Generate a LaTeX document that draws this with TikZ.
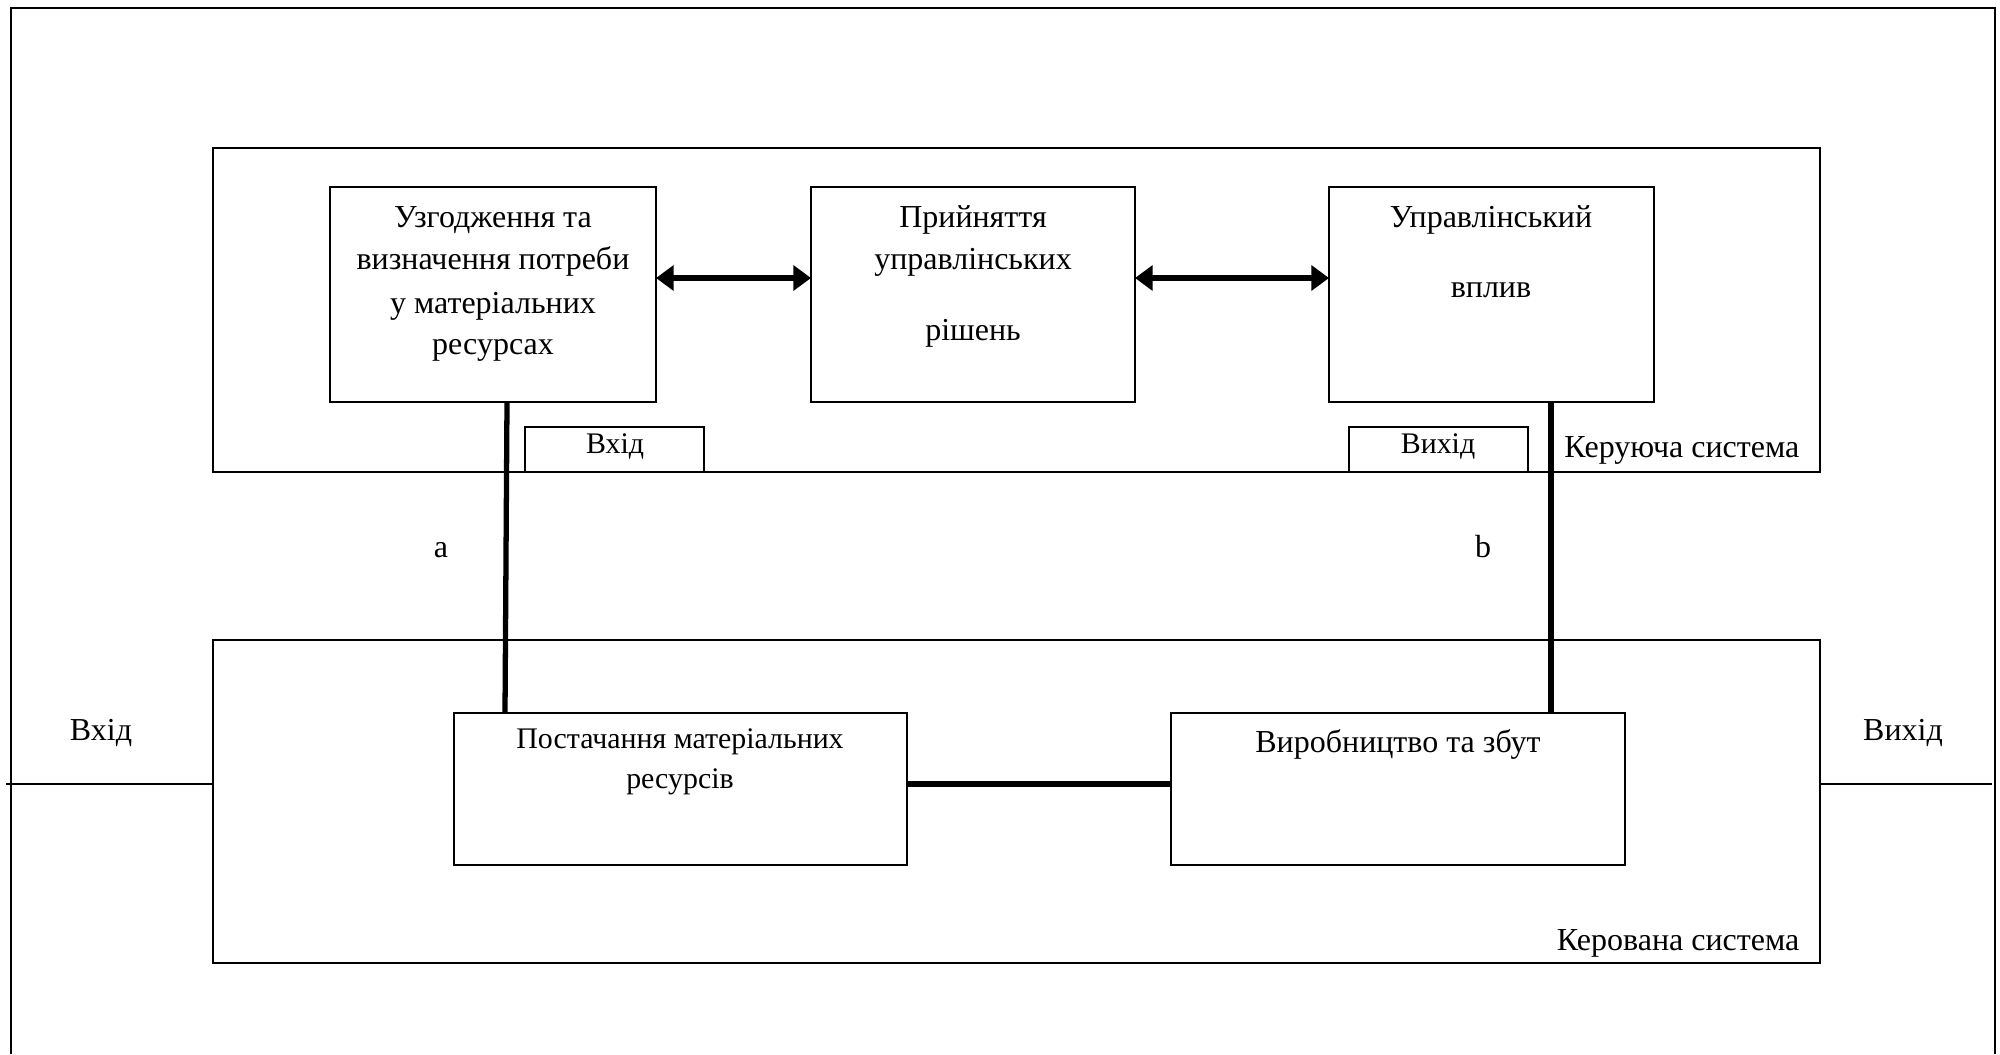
\documentclass[tikz,border=0pt]{standalone}
\usepackage{fontspec}
\setmainfont{Liberation Serif}
\usetikzlibrary{arrows.meta}
\begin{document}
\begin{tikzpicture}[x=0.01cm,y=-0.01cm,
  thinbox/.style={draw,line width=0.6pt,inner sep=0pt,outer sep=0pt},
  txt/.style={inner sep=0pt,anchor=base,font=\fontsize{9.1}{11}\selectfont},
  smalltxt/.style={inner sep=0pt,anchor=base,font=\fontsize{8.5}{10}\selectfont},
  thickline/.style={line width=1.5pt},
  dblarrow/.style={line width=1.6pt,{Triangle[length=5pt,width=7pt]}-{Triangle[length=5pt,width=7pt]}}]
\useasboundingbox (0,0) rectangle (2000,1054);
% outer frame (open at bottom)
\draw[line width=0.6pt] (11,1054) -- (11,8) -- (1995,8) -- (1995,1054);
% control system
\node[thinbox,anchor=north west,minimum width=1607*0.01cm,minimum height=324*0.01cm] (ctrl) at (213,148) {};
\node[thinbox,anchor=north west,minimum width=326*0.01cm,minimum height=215*0.01cm] (b1) at (330,187) {};
\node[thinbox,anchor=north west,minimum width=324*0.01cm,minimum height=215*0.01cm] (b2) at (811,187) {};
\node[thinbox,anchor=north west,minimum width=325*0.01cm,minimum height=215*0.01cm] (b3) at (1329,187) {};
\node[txt] (t1a) at (493,227) {Узгодження та};
\node[txt] (t1b) at (493,269) {визначення потреби};
\node[txt] (t1c) at (493,313) {у матеріальних};
\node[txt] (t1d) at (493,354) {ресурсах};
\node[txt] (t2a) at (973,227) {Прийняття};
\node[txt] (t2b) at (973,269) {управлінських};
\node[txt] (t2c) at (973,340) {рішень};
\node[txt] (t3a) at (1491,227) {Управлінський};
\node[txt] (t3b) at (1491,297) {вплив};
\draw[dblarrow] (b1.east |- 0,278) coordinate (a1s) -- (b2.west |- 0,278) coordinate (a1e);
\draw[dblarrow] (b2.east |- 0,278) coordinate (a2s) -- (b3.west |- 0,278) coordinate (a2e);
\node[thinbox,anchor=north west,minimum width=179*0.01cm,minimum height=45*0.01cm] (inbox) at (525,427) {};
\node[smalltxt] (intxt) at (615,453) {Вхід};
\node[thinbox,anchor=north west,minimum width=179*0.01cm,minimum height=45*0.01cm] (outbox) at (1349,427) {};
\node[smalltxt] (outtxt) at (1438,453) {Вихід};
\node[txt,anchor=base east] (ctrllbl) at (1800,457) {Керуюча система};
% managed system
\node[thinbox,anchor=north west,minimum width=1607*0.01cm,minimum height=323*0.01cm] (man) at (213,640) {};
\node[txt,anchor=base east] (manlbl) at (1800,950) {Керована система};
\node[thinbox,anchor=north west,minimum width=453*0.01cm,minimum height=152*0.01cm] (p1) at (454,713) {};
\node[thinbox,anchor=north west,minimum width=454*0.01cm,minimum height=152*0.01cm] (p2) at (1171,713) {};
\node[smalltxt] (p1a) at (680,748) {Постачання матеріальних};
\node[smalltxt] (p1b) at (680,788) {ресурсів};
\node[txt] (p2a) at (1398,752) {Виробництво та збут};
% connectors
\coordinate (aTop) at (507,402);
\coordinate (aBot) at (505,713);
\draw[thickline] (aTop) -- (aBot);
\coordinate (bTop) at (1551,402);
\coordinate (bBot) at (1551,713);
\draw[thickline] (bTop) -- (bBot);
\draw[thickline] (p1.east |- 0,784) -- (p2.west |- 0,784);
\node[txt] (la) at (441,557) {a};
\node[txt] (lb) at (1483,557) {b};
% input / output
\coordinate (inL) at (6,784);
\coordinate (outR) at (1992,784);
\draw[line width=0.6pt] (inL) -- (man.west |- 0,784);
\draw[line width=0.6pt] (man.east |- 0,784) -- (outR);
\node[txt] (inlbl) at (101,740) {Вхід};
\node[txt] (outlbl) at (1903,740) {Вихід};
\end{tikzpicture}
\end{document}
